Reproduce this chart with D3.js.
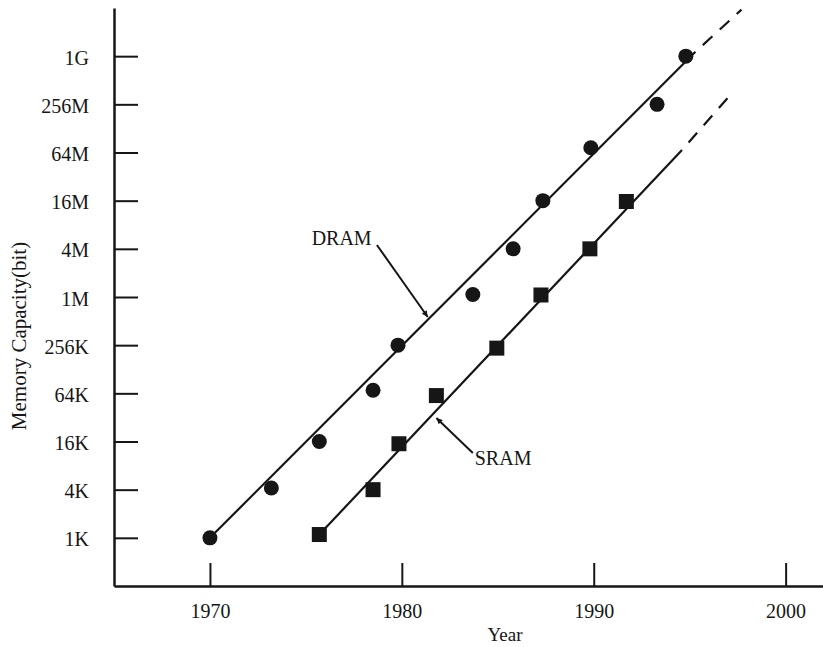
<!DOCTYPE html>
<html>
<head>
<meta charset="utf-8">
<script src="https://cdn.jsdelivr.net/npm/d3@7"></script>
<style>
  html, body { margin: 0; padding: 0; background: #fff; }
  svg { display: block; font-family: "Liberation Serif", "Times New Roman", serif; }
</style>
</head>
<body>
<div id="container"></div>
<script>
// Chart dimensions and margins
const width = 823;
const height = 647;
const marginTop = 8;
const marginRight = 0;
const marginBottom = 61;
const marginLeft = 114;
const serif = '"Liberation Serif", "Times New Roman", serif';

// Data: year, capacity in Kbit
const dramYears  = [1970, 1973.2, 1975.7, 1978.5, 1979.8, 1983.7, 1985.8, 1987.35, 1989.85, 1993.3, 1994.8];
const dramValues = [1, 4.2, 16, 70, 256, 1100, 4096, 16384, 75000, 262144, 1048576];

const sramYears  = [1975.7, 1978.5, 1979.85, 1981.8, 1984.95, 1987.25, 1989.8, 1991.7];
const sramValues = [1.1, 4, 15, 60, 235, 1085, 4096, 16000];

// Trend lines (solid part and dashed extrapolation)
const dramTrend = [[1970, 1], [1995.3, 1188000]];
const dramTrendExt = [[1995.3, 1188000], [1997.7, 4000000]];
const sramTrend = [[1975.7, 1.1], [1994.6, 70200]];
const sramTrendExt = [[1994.6, 70200], [1997.3, 386000]];

// Axis ticks
const yearTicks = [1970, 1980, 1990, 2000];
const capTicks = [1, 4, 16, 64, 256, 1024, 4096, 16384, 65536, 262144, 1048576];
const capLabels = ["1K", "4K", "16K", "64K", "256K", "1M", "4M", "16M", "64M", "256M", "1G"];

// Annotations: label anchor and leader line from -> to (year, Kbit)
const labels = ["DRAM", "SRAM"];
const labelAt = [[1975.3, 4580], [1983.8, 8.1]];
const leaderFrom = [[1978.7, 4580], [1983.7, 11.5]];
const leaderTo = [[1981.35, 576], [1981.8, 31.5]];

const ink = "#161616";

const x = d3.scaleLinear()
    .domain([1965, 2002])
    .range([marginLeft, width + 1]);

const y = d3.scaleLog()
    .base(2)
    .domain([0.25, 4194304])
    .range([height - marginBottom, marginTop]);

const svg = d3.select("#container").append("svg")
    .attr("width", width)
    .attr("height", height)
    .attr("viewBox", [0, 0, width, height]);

// Axes
svg.append("g")
    .attr("transform", `translate(0,${height - marginBottom})`)
    .call(d3.axisBottom(x).tickValues(yearTicks).tickFormat(d3.format("d"))
        .tickSize(-23).tickSizeOuter(0).tickPadding(18))
    .attr("font-family", serif)
    .call(g => g.select(".domain").attr("stroke", ink).attr("stroke-width", 2.5))
    .call(g => g.selectAll(".tick line").attr("stroke", ink).attr("stroke-width", 2))
    .call(g => g.selectAll(".tick text").attr("fill", ink).style("font-size", "20px"));

svg.append("g")
    .attr("transform", `translate(${marginLeft},0)`)
    .call(d3.axisLeft(y).tickValues(capTicks).tickFormat((d, i) => capLabels[i])
        .tickSize(-24).tickSizeOuter(0).tickPadding(25))
    .attr("font-family", serif)
    .call(g => g.select(".domain").attr("stroke", ink).attr("stroke-width", 2.5))
    .call(g => g.selectAll(".tick line").attr("stroke", ink).attr("stroke-width", 2))
    .call(g => g.selectAll(".tick text").attr("fill", ink).attr("dy", "0.4em").style("font-size", "20px"));

// Axis titles
svg.append("text")
    .attr("x", 505)
    .attr("y", 641)
    .attr("text-anchor", "middle")
    .attr("fill", ink)
    .style("font-size", "19px")
    .text("Year");

svg.append("text")
    .attr("transform", "translate(26,336) rotate(-90)")
    .attr("text-anchor", "middle")
    .attr("fill", ink)
    .style("font-size", "21px")
    .text("Memory Capacity(bit)");

// Trend lines
const line = d3.line()
    .x(d => x(d[0]))
    .y(d => y(d[1]));

[dramTrend, sramTrend].forEach(t => {
    svg.append("path")
        .datum(t)
        .attr("fill", "none")
        .attr("stroke", ink)
        .attr("stroke-width", 2.2)
        .attr("d", line);
});

[dramTrendExt, sramTrendExt].forEach(t => {
    svg.append("path")
        .datum(t)
        .attr("fill", "none")
        .attr("stroke", ink)
        .attr("stroke-width", 2.2)
        .attr("stroke-dasharray", "13,10")
        .attr("stroke-dashoffset", 13)
        .attr("d", line);
});

// DRAM points
svg.append("g")
    .selectAll("circle")
    .data(dramYears.map((d, i) => [d, dramValues[i]]))
    .join("circle")
    .attr("cx", d => x(d[0]))
    .attr("cy", d => y(d[1]))
    .attr("r", 7.5)
    .attr("fill", ink);

// SRAM points
const sq = 15;
svg.append("g")
    .selectAll("rect")
    .data(sramYears.map((d, i) => [d, sramValues[i]]))
    .join("rect")
    .attr("x", d => x(d[0]) - sq / 2)
    .attr("y", d => y(d[1]) - sq / 2)
    .attr("width", sq)
    .attr("height", sq)
    .attr("fill", ink);

// Arrowhead marker
svg.append("defs").append("marker")
    .attr("id", "arrow")
    .attr("viewBox", "0 0 10 10")
    .attr("refX", 10)
    .attr("refY", 5)
    .attr("markerWidth", 9)
    .attr("markerHeight", 6)
    .attr("markerUnits", "userSpaceOnUse")
    .attr("orient", "auto")
    .append("path")
    .attr("d", "M0,0L10,5L0,10z")
    .attr("fill", ink);

// Labels with leader arrows
labels.forEach((name, i) => {
    svg.append("line")
        .attr("x1", x(leaderFrom[i][0]))
        .attr("y1", y(leaderFrom[i][1]))
        .attr("x2", x(leaderTo[i][0]))
        .attr("y2", y(leaderTo[i][1]))
        .attr("stroke", ink)
        .attr("stroke-width", 2)
        .attr("marker-end", "url(#arrow)");

    svg.append("text")
        .attr("x", x(labelAt[i][0]))
        .attr("y", y(labelAt[i][1]))
        .attr("fill", ink)
        .style("font-size", "20px")
        .text(name);
});
</script>
</body>
</html>
